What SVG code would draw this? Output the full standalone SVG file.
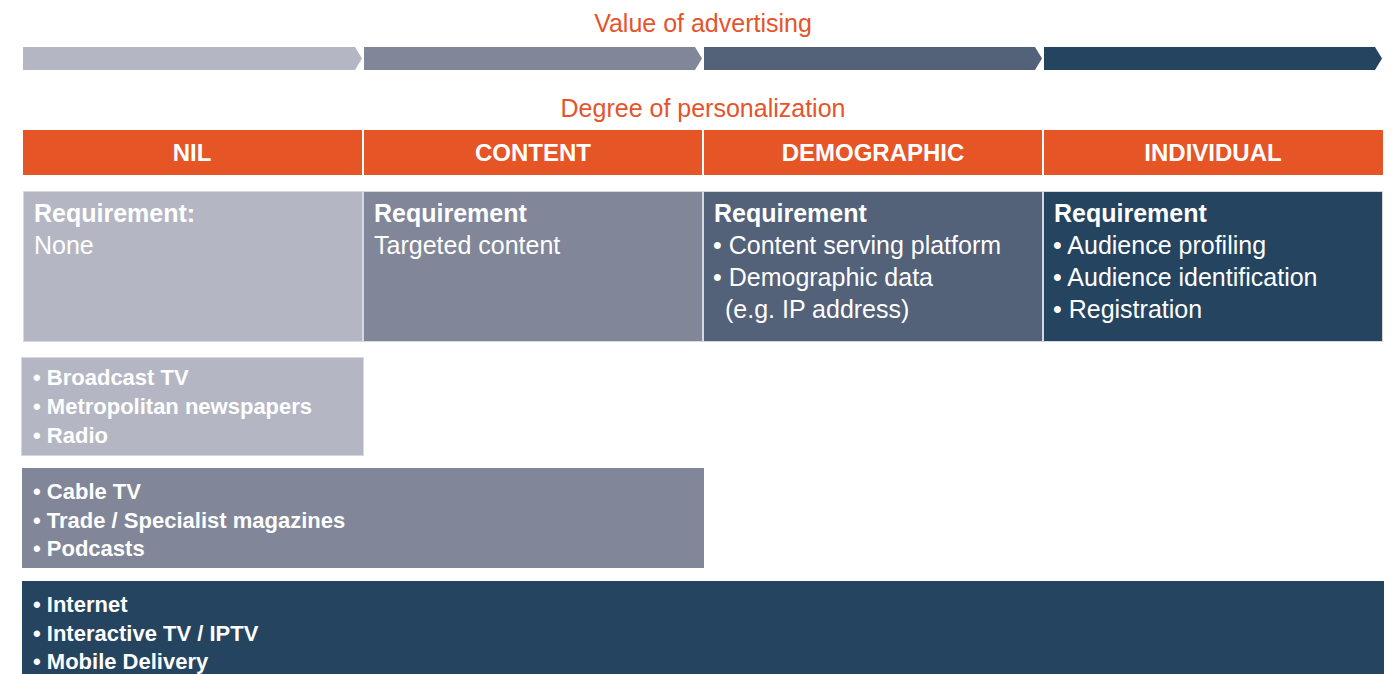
<svg xmlns="http://www.w3.org/2000/svg" width="1400" height="674" viewBox="0 0 1400 674">
<style>
.title{font-family:"Liberation Sans",Arial,sans-serif;font-size:25px;fill:#E5542A;text-anchor:middle}
.hdr{font-family:"Liberation Sans",Arial,sans-serif;font-size:24px;font-weight:bold;fill:#fff;text-anchor:middle}
.rb{font-family:"Liberation Sans",Arial,sans-serif;font-size:25px;font-weight:bold;fill:#fff}
.rt{font-family:"Liberation Sans",Arial,sans-serif;font-size:25px;fill:#fff}
.lt{font-family:"Liberation Sans",Arial,sans-serif;font-size:22px;font-weight:bold;fill:#fff}
.c1{fill:#B4B7C3}.c2{fill:#818699}.c3{fill:#536179}.c4{fill:#254460}
.bx{stroke:#D6D8DF;stroke-width:1}
.or{fill:#E65525}
</style>
<g id="title-value"><text class="title" x="703" y="32">Value of advertising</text></g>
<g id="arrows">
<polygon class="c1" points="23,47 355,47 362,58.5 355,70 23,70"/>
<polygon class="c2" points="364,47 695,47 702,58.5 695,70 364,70"/>
<polygon class="c3" points="704,47 1035,47 1042,58.5 1035,70 704,70"/>
<polygon class="c4" points="1044,47 1375,47 1382,58.5 1375,70 1044,70"/>
</g>
<g id="title-degree"><text class="title" x="703" y="117">Degree of personalization</text></g>
<g id="header-nil"><rect class="or" x="23" y="130" width="339" height="45"/><text class="hdr" x="192" y="161">NIL</text></g>
<g id="header-content"><rect class="or" x="364" y="130" width="338" height="45"/><text class="hdr" x="533" y="161">CONTENT</text></g>
<g id="header-demographic"><rect class="or" x="704" y="130" width="338" height="45"/><text class="hdr" x="873" y="161">DEMOGRAPHIC</text></g>
<g id="header-individual"><rect class="or" x="1044" y="130" width="339" height="45"/><text class="hdr" x="1213" y="161">INDIVIDUAL</text></g>
<g id="req-nil"><rect class="c1 bx" x="23.5" y="191.5" width="339" height="150"/>
<text class="rb" x="34" y="222">Requirement:</text><text class="rt" x="34" y="254">None</text></g>
<g id="req-content"><rect class="c2 bx" x="363.5" y="191.5" width="339" height="150"/>
<text class="rb" x="374" y="222">Requirement</text><text class="rt" x="374" y="254">Targeted content</text></g>
<g id="req-demographic"><rect class="c3 bx" x="703.5" y="191.5" width="339" height="150"/>
<text class="rb" x="714" y="222">Requirement</text><text class="rt" x="713" y="254">• Content serving platform</text><text class="rt" x="713" y="286">• Demographic data</text><text class="rt" x="725" y="318">(e.g. IP address)</text></g>
<g id="req-individual"><rect class="c4 bx" x="1043.5" y="191.5" width="339" height="150"/>
<text class="rb" x="1054" y="222">Requirement</text><text class="rt" x="1053" y="254">• Audience profiling</text><text class="rt" x="1053" y="286">• Audience identification</text><text class="rt" x="1053" y="318">• Registration</text></g>
<g id="media-nil"><rect class="c1 bx" x="21.5" y="357.5" width="342" height="98"/>
<text class="lt" x="33" y="385">• Broadcast TV</text><text class="lt" x="33" y="414">• Metropolitan newspapers</text><text class="lt" x="33" y="443">• Radio</text></g>
<g id="media-content"><rect class="c2" x="22" y="468" width="682" height="100"/>
<text class="lt" x="33" y="499">• Cable TV</text><text class="lt" x="33" y="528">• Trade / Specialist magazines</text><text class="lt" x="33" y="556">• Podcasts</text></g>
<g id="media-individual"><rect class="c4" x="22" y="581" width="1362" height="100"/>
<text class="lt" x="33" y="612">• Internet</text><text class="lt" x="33" y="641">• Interactive TV / IPTV</text><text class="lt" x="33" y="669">• Mobile Delivery</text></g>
<g id="connectors"/>
</svg>
